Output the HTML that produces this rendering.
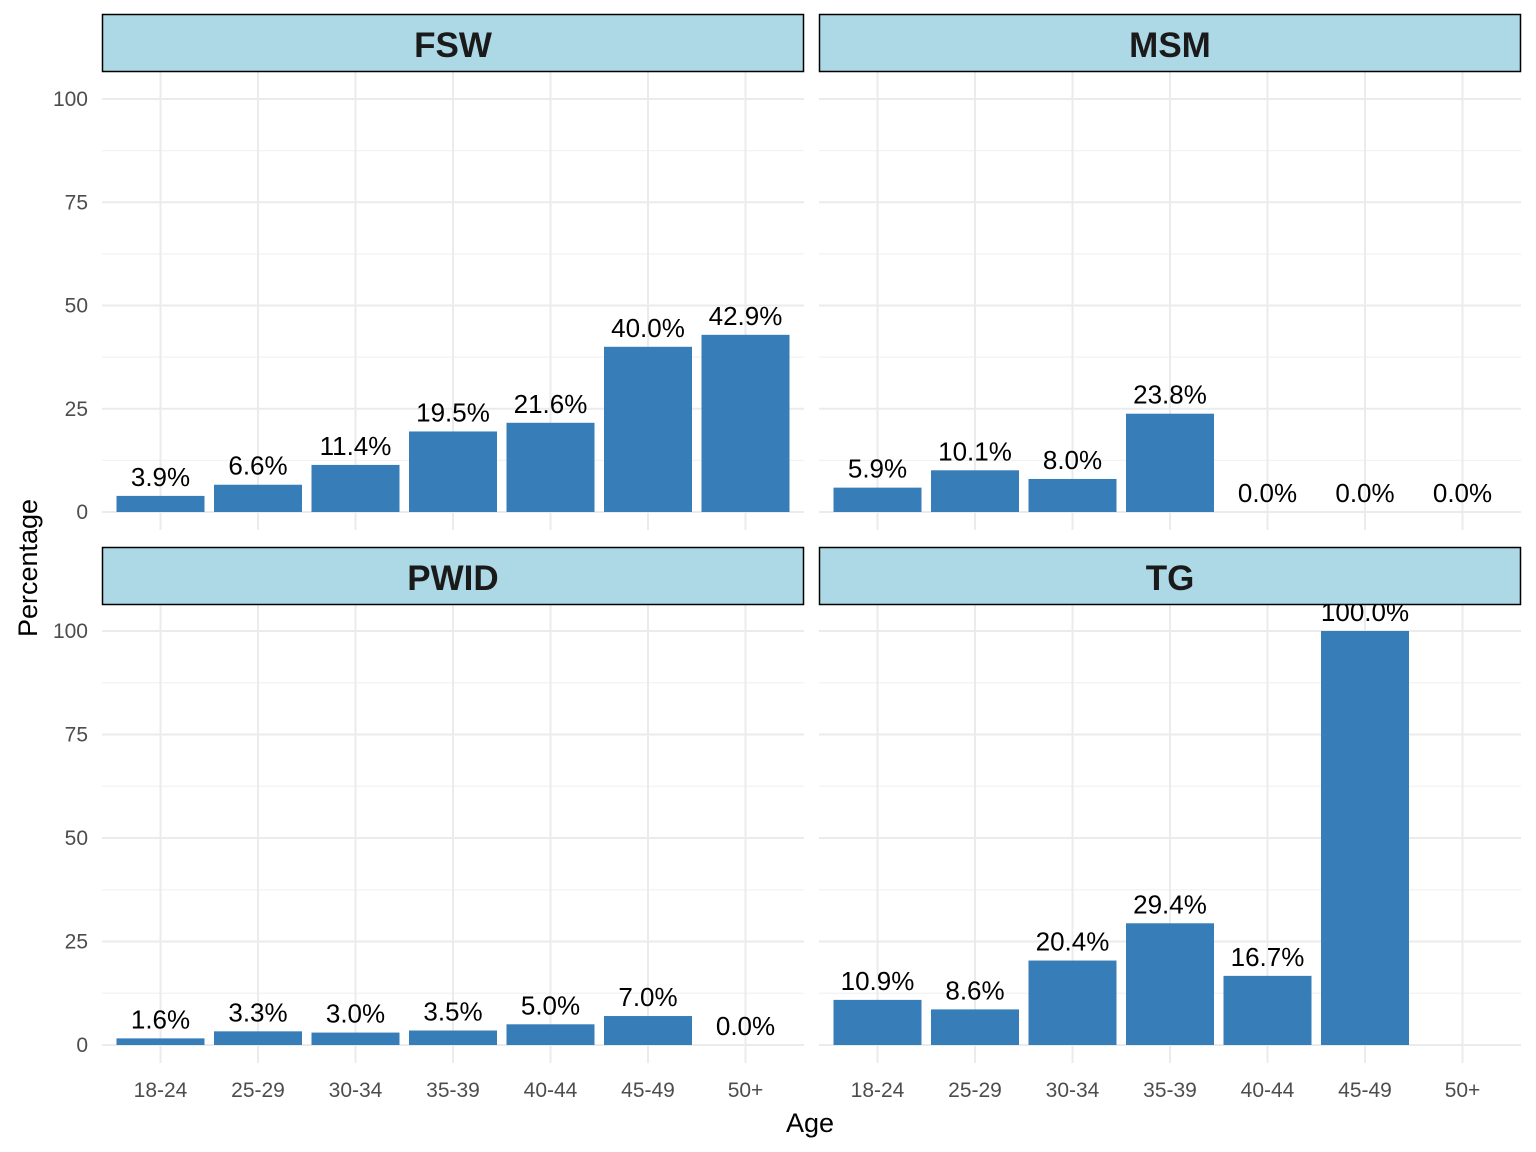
<!DOCTYPE html>
<html><head><meta charset="utf-8"><style>
body{margin:0;background:#fff;}
svg{display:block;font-family:"Liberation Sans",Arial,sans-serif;}
</style></head><body>
<svg id="chart" width="1536" height="1152" viewBox="0 0 1536 1152" xmlns="http://www.w3.org/2000/svg"></svg>
<script>
const categories = ["18-24","25-29","30-34","35-39","40-44","45-49","50+"];
const panelNames = ["FSW","MSM","PWID","TG"];
const fswValues = [3.9,6.6,11.4,19.5,21.6,40.0,42.9];
const msmValues = [5.9,10.1,8.0,23.8,0.0,0.0,0.0];
const pwidValues = [1.6,3.3,3.0,3.5,5.0,7.0,0.0];
const tgValues = [10.9,8.6,20.4,29.4,16.7,100.0,null];
const yTicks = [0,25,50,75,100];
const yMinor = [12.5,37.5,62.5,87.5];

const svg = document.getElementById('chart');
const NS = "http://www.w3.org/2000/svg";
function mk(tag, attrs, parent){const e=document.createElementNS(NS,tag);for(const k in attrs)e.setAttribute(k,attrs[k]);(parent||svg).appendChild(e);return e;}

const series=[fswValues,msmValues,pwidValues,tgValues];
const layout=[
 {x0:102,x1:804,top:72,bottom:530,zero:512,hundred:99,stripY:14},
 {x0:819,x1:1521,top:72,bottom:530,zero:512,hundred:99,stripY:14},
 {x0:102,x1:804,top:605,bottom:1063,zero:1045,hundred:631,stripY:547},
 {x0:819,x1:1521,top:605,bottom:1063,zero:1045,hundred:631,stripY:547}
];
const unit=(702)/7.2;
layout.forEach((L,p)=>{
  const g=mk('g',{});
  
  
  const xScale=i=>L.x0+unit*(i+1-0.4);
  const yScale=v=>L.zero-(L.zero-L.hundred)*v/100;
  yMinor.forEach(v=>{const l=mk('line',{x1:L.x0,x2:L.x1,y1:yScale(v),y2:yScale(v),stroke:'#f2f2f2','stroke-width':1.2},g);
    });
  yTicks.forEach(v=>{const l=mk('line',{x1:L.x0,x2:L.x1,y1:yScale(v),y2:yScale(v),stroke:'#ebebeb','stroke-width':2},g);
    });
  categories.forEach((c,i)=>{const l=mk('line',{x1:xScale(i),x2:xScale(i),y1:L.top,y2:L.bottom,stroke:'#ebebeb','stroke-width':2},g);
    });
  if(p%2===0){yTicks.forEach(v=>{const t=mk('text',{x:88,y:yScale(v)+7,'text-anchor':'end','font-size':21,fill:'#4d4d4d'},g);
    t.textContent=v;});}
  if(p>=2){categories.forEach((c,i)=>{const t=mk('text',{x:xScale(i),y:1097,'text-anchor':'middle','font-size':21,fill:'#4d4d4d'},g);
    t.textContent=c;});}
  series[p].forEach((v,i)=>{
    if(v===null)return;
    const cx=xScale(i),w=88;
    const b=mk('rect',{x:cx-w/2,y:yScale(v),width:w,height:L.zero-yScale(v),fill:'#377EB8'},g);
    
    const t=mk('text',{x:cx,y:yScale(v)-10,'text-anchor':'middle','font-size':26,fill:'#000'},g);
    t.textContent=v.toFixed(1)+'%';
  });
  const s=mk('rect',{x:L.x0+0.5,y:L.stripY+0.5,width:L.x1-L.x0-1,height:57,fill:'#ADD8E6',stroke:'#000','stroke-width':1.5},g);
  
  const st=mk('text',{x:(L.x0+L.x1)/2,y:L.stripY+43,'text-anchor':'middle','font-size':35,'font-weight':'bold',fill:'#1a1a1a'},g);
  st.textContent=panelNames[p];
});
const yt=mk('text',{x:0,y:0,transform:'translate(37,568) rotate(-90)','text-anchor':'middle','font-size':27,fill:'#000'});
yt.textContent='Percentage';
const xt=mk('text',{x:810,y:1132,'text-anchor':'middle','font-size':27,fill:'#000'});
xt.textContent='Age';
</script>
</body></html>
